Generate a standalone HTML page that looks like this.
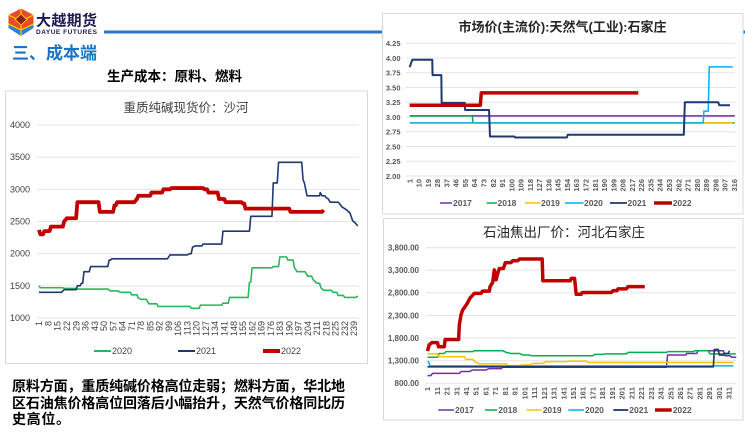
<!DOCTYPE html>
<html><head><meta charset="utf-8"><style>
html,body{margin:0;padding:0;background:#fff;}
svg{display:block;}
text{font-family:"Liberation Sans","Noto Sans CJK SC",sans-serif;}
.cjk{font-family:"Liberation Sans","Noto Sans CJK SC",sans-serif;}
.ln{fill:none;vector-effect:non-scaling-stroke;stroke-linejoin:round;stroke-linecap:butt;}
.g{stroke:#e3e3e3;stroke-width:1;}
.yl{font-size:9px;fill:#404040;text-anchor:end;}
.xl{font-size:9px;fill:#404040;text-anchor:end;}
.yr{font-size:7.5px;fill:#595959;text-anchor:end;font-weight:bold;}
.xr{font-size:7.5px;fill:#595959;text-anchor:end;font-weight:bold;}
.lg{font-size:8.5px;fill:#595959;font-weight:bold;}
</style></head><body>
<svg width="745" height="432" viewBox="0 0 745 432" xmlns="http://www.w3.org/2000/svg">
<rect x="0" y="0" width="745" height="432" fill="#fff"/>
<!-- Logo -->
<polygon points="8.5,24 21,30 33.5,24 33.5,28 21,36 8.5,28" fill="#2f7fd2"/>
<polygon points="8.5,15 21,8.5 33.5,15 33.5,24 21,30 8.5,24" fill="#e84a2a"/>
<polyline points="8.5,15 21,21 33.5,15" fill="none" stroke="#f6c500" stroke-width="1.3"/>
<line x1="21" y1="8.5" x2="21" y2="36" stroke="#f6c500" stroke-width="1.3"/>
<polyline points="8.5,24 21,30 33.5,24" fill="none" stroke="#f6c500" stroke-width="1.3"/>
<polygon points="21,14 27,19.5 21,25 15,19.5" fill="#8e1d1d" stroke="#f6c500" stroke-width="1"/>
<text x="36" y="25.5" font-size="15" font-weight="bold" fill="#1c1c50" textLength="61" class="cjk">大越期货</text>
<text x="36" y="34" font-size="6.5" font-weight="bold" fill="#1c1c50" textLength="61">DAYUE FUTURES</text>
<rect x="104" y="30.5" width="641" height="3" fill="#2a78c2"/>
<text x="12" y="59" font-size="17" font-weight="bold" fill="#1a73c6" textLength="85" class="cjk">三、成本端</text>
<text x="174.5" y="81" font-size="13.5" font-weight="bold" fill="#000" text-anchor="middle" class="cjk">生产成本：原料、燃料</text>

<!-- LEFT CHART -->
<rect x="5.5" y="91" width="362" height="272.5" fill="#fff" stroke="#d9d9d9" stroke-width="1"/>
<text x="186" y="112" font-size="12.5" fill="#404040" text-anchor="middle" class="cjk">重质纯碱现货价：沙河</text>
<g class="g">
<line x1="37" y1="125" x2="359" y2="125"/>
<line x1="37" y1="157.17" x2="359" y2="157.17"/>
<line x1="37" y1="189.33" x2="359" y2="189.33"/>
<line x1="37" y1="221.5" x2="359" y2="221.5"/>
<line x1="37" y1="253.67" x2="359" y2="253.67"/>
<line x1="37" y1="285.83" x2="359" y2="285.83"/>
<line x1="37" y1="318" x2="359" y2="318"/>
</g>
<g>
<text class="yl" x="30" y="128">4000</text>
<text class="yl" x="30" y="160.2">3500</text>
<text class="yl" x="30" y="192.3">3000</text>
<text class="yl" x="30" y="224.5">2500</text>
<text class="yl" x="30" y="256.7">2000</text>
<text class="yl" x="30" y="288.8">1500</text>
<text class="yl" x="30" y="321">1000</text>
</g>
<g>
<text class="xl" transform="translate(42.2,321) rotate(-90)">1</text>
<text class="xl" transform="translate(51.5,321) rotate(-90)">8</text>
<text class="xl" transform="translate(60.7,321) rotate(-90)">15</text>
<text class="xl" transform="translate(70.0,321) rotate(-90)">22</text>
<text class="xl" transform="translate(79.3,321) rotate(-90)">29</text>
<text class="xl" transform="translate(88.5,321) rotate(-90)">36</text>
<text class="xl" transform="translate(97.8,321) rotate(-90)">43</text>
<text class="xl" transform="translate(107.1,321) rotate(-90)">50</text>
<text class="xl" transform="translate(116.3,321) rotate(-90)">57</text>
<text class="xl" transform="translate(125.6,321) rotate(-90)">64</text>
<text class="xl" transform="translate(134.9,321) rotate(-90)">71</text>
<text class="xl" transform="translate(144.1,321) rotate(-90)">78</text>
<text class="xl" transform="translate(153.4,321) rotate(-90)">85</text>
<text class="xl" transform="translate(162.6,321) rotate(-90)">92</text>
<text class="xl" transform="translate(171.9,321) rotate(-90)">99</text>
<text class="xl" transform="translate(181.2,321) rotate(-90)">106</text>
<text class="xl" transform="translate(190.4,321) rotate(-90)">113</text>
<text class="xl" transform="translate(199.7,321) rotate(-90)">120</text>
<text class="xl" transform="translate(209.0,321) rotate(-90)">127</text>
<text class="xl" transform="translate(218.2,321) rotate(-90)">134</text>
<text class="xl" transform="translate(227.5,321) rotate(-90)">141</text>
<text class="xl" transform="translate(236.8,321) rotate(-90)">148</text>
<text class="xl" transform="translate(246.0,321) rotate(-90)">155</text>
<text class="xl" transform="translate(255.3,321) rotate(-90)">162</text>
<text class="xl" transform="translate(264.6,321) rotate(-90)">169</text>
<text class="xl" transform="translate(273.8,321) rotate(-90)">176</text>
<text class="xl" transform="translate(283.1,321) rotate(-90)">183</text>
<text class="xl" transform="translate(292.4,321) rotate(-90)">190</text>
<text class="xl" transform="translate(301.6,321) rotate(-90)">197</text>
<text class="xl" transform="translate(310.9,321) rotate(-90)">204</text>
<text class="xl" transform="translate(320.1,321) rotate(-90)">211</text>
<text class="xl" transform="translate(329.4,321) rotate(-90)">218</text>
<text class="xl" transform="translate(338.7,321) rotate(-90)">225</text>
<text class="xl" transform="translate(347.9,321) rotate(-90)">232</text>
<text class="xl" transform="translate(357.2,321) rotate(-90)">239</text>
</g>
<g transform="translate(37.68,382.33) scale(1.3235,-0.064333)">
<polyline class="ln" stroke="#2db55d" stroke-width="1.6" points="1,1500 2,1470 19,1470 20,1460 29,1460 30,1450 53,1450 55,1420 61,1420 62,1400 70,1400 71,1360 75,1360 76,1310 78,1290 82,1290 84,1220 90,1220 91,1180 115,1180 116,1150 122,1150 123,1200 139,1200 140,1230 144,1230 145,1320 159,1320 160,1550 161,1560 162,1780 177,1780 178,1800 182,1800 183,1950 188,1950 189,1900 193,1900 194,1780 196,1720 202,1720 204,1650 207,1650 208,1600 211,1540 213,1540 214,1470 216,1430 222,1430 223,1400 226,1400 227,1350 231,1350 232,1320 240,1320 242,1340"/>
<polyline class="ln" stroke="#1f3870" stroke-width="1.6" points="1,1400 18,1400 19,1420 20,1440 29,1440 30,1500 32,1500 33,1540 34,1540 35,1720 39,1720 40,1800 53,1800 54,1900 55,1900 56,1920 98,1920 100,1980 113,1980 115,2000 116,2000 117,2100 119,2120 124,2120 125,2150 139,2150 140,2350 160,2350 161,2580 177,2580 178,3100 181,3100 182,3420 199.5,3420 200.5,3150 201.5,3100 203.5,2900 213,2900 213.5,2950 214.8,2900 217,2900 218,2870 219.6,2850 221,2800 227,2800 228,2780 229.7,2730 233.5,2680 236,2630 238,2510 239.8,2480 241.5,2440 242,2440"/>
<polyline class="ln" stroke="#c00000" stroke-width="3.8" points="1,2370 2,2300 4,2300 5,2350 9,2350 10,2420 19,2420 20,2500 22,2550 29,2550 30,2800 46,2800 47,2650 57,2650 58,2750 59,2750 60,2800 73,2800 75,2850 76,2900 85,2900 86,2950 94,2950 95,3000 100,3000 101,3020 125,3020 126,3000 128,3000 129,2950 136,2950 137,2850 141,2850 142,2800 154,2800 155,2780 156,2780 157,2700 190,2700 191,2650 215,2650 216,2680"/>
</g>
<line x1="94" y1="351" x2="111" y2="351" stroke="#2db55d" stroke-width="2"/>
<text class="lg" x="112" y="354" style="font-weight:normal;fill:#404040;font-size:9px">2020</text>
<line x1="178" y1="351" x2="195" y2="351" stroke="#1f3870" stroke-width="2"/>
<text class="lg" x="196" y="354" style="font-weight:normal;fill:#404040;font-size:9px">2021</text>
<line x1="263" y1="351" x2="280" y2="351" stroke="#c00000" stroke-width="4"/>
<text class="lg" x="281" y="354" style="font-weight:normal;fill:#404040;font-size:9px">2022</text>

<!-- Paragraph -->
<text x="12" y="391" font-size="14" font-weight="bold" fill="#000" textLength="333" class="cjk">原料方面，重质纯碱价格高位走弱；燃料方面，华北地</text>
<text x="12" y="408" font-size="14" font-weight="bold" fill="#000" textLength="333" class="cjk">区石油焦价格高位回落后小幅抬升，天然气价格同比历</text>
<text x="12" y="424" font-size="14" font-weight="bold" fill="#000" textLength="58" class="cjk">史高位。</text>

<!-- TOP RIGHT CHART -->
<rect x="382.5" y="13.5" width="360.5" height="200.5" fill="#fff" stroke="#d9d9d9" stroke-width="1"/>
<text x="562.5" y="31.5" font-size="13" font-weight="bold" fill="#262626" text-anchor="middle" class="cjk">市场价(主流价):天然气(工业):石家庄</text>
<g class="g">
<line x1="405.7" y1="43.3" x2="735" y2="43.3"/>
<line x1="405.7" y1="58.04" x2="735" y2="58.04"/>
<line x1="405.7" y1="72.79" x2="735" y2="72.79"/>
<line x1="405.7" y1="87.53" x2="735" y2="87.53"/>
<line x1="405.7" y1="102.28" x2="735" y2="102.28"/>
<line x1="405.7" y1="117.02" x2="735" y2="117.02"/>
<line x1="405.7" y1="131.77" x2="735" y2="131.77"/>
<line x1="405.7" y1="146.51" x2="735" y2="146.51"/>
<line x1="405.7" y1="161.26" x2="735" y2="161.26"/>
<line x1="405.7" y1="176" x2="735" y2="176"/>
</g>
<g>
<text class="yr" x="400.5" y="46">4.25</text>
<text class="yr" x="400.5" y="60.8">4.00</text>
<text class="yr" x="400.5" y="75.5">3.75</text>
<text class="yr" x="400.5" y="90.3">3.50</text>
<text class="yr" x="400.5" y="105">3.25</text>
<text class="yr" x="400.5" y="119.8">3.00</text>
<text class="yr" x="400.5" y="134.5">2.75</text>
<text class="yr" x="400.5" y="149.3">2.50</text>
<text class="yr" x="400.5" y="164">2.25</text>
<text class="yr" x="400.5" y="178.8">2.00</text>
</g>
<g>
<text class="xr" transform="translate(412.3,179) rotate(-90)">1</text>
<text class="xr" transform="translate(421.6,179) rotate(-90)">10</text>
<text class="xr" transform="translate(430.9,179) rotate(-90)">19</text>
<text class="xr" transform="translate(440.1,179) rotate(-90)">28</text>
<text class="xr" transform="translate(449.4,179) rotate(-90)">37</text>
<text class="xr" transform="translate(458.7,179) rotate(-90)">46</text>
<text class="xr" transform="translate(468.0,179) rotate(-90)">55</text>
<text class="xr" transform="translate(477.2,179) rotate(-90)">64</text>
<text class="xr" transform="translate(486.5,179) rotate(-90)">73</text>
<text class="xr" transform="translate(495.8,179) rotate(-90)">82</text>
<text class="xr" transform="translate(505.1,179) rotate(-90)">91</text>
<text class="xr" transform="translate(514.3,179) rotate(-90)">100</text>
<text class="xr" transform="translate(523.6,179) rotate(-90)">109</text>
<text class="xr" transform="translate(532.9,179) rotate(-90)">118</text>
<text class="xr" transform="translate(542.1,179) rotate(-90)">127</text>
<text class="xr" transform="translate(551.4,179) rotate(-90)">136</text>
<text class="xr" transform="translate(560.7,179) rotate(-90)">145</text>
<text class="xr" transform="translate(570.0,179) rotate(-90)">154</text>
<text class="xr" transform="translate(579.2,179) rotate(-90)">163</text>
<text class="xr" transform="translate(588.5,179) rotate(-90)">172</text>
<text class="xr" transform="translate(597.8,179) rotate(-90)">181</text>
<text class="xr" transform="translate(607.1,179) rotate(-90)">190</text>
<text class="xr" transform="translate(616.3,179) rotate(-90)">199</text>
<text class="xr" transform="translate(625.6,179) rotate(-90)">208</text>
<text class="xr" transform="translate(634.9,179) rotate(-90)">217</text>
<text class="xr" transform="translate(644.2,179) rotate(-90)">226</text>
<text class="xr" transform="translate(653.4,179) rotate(-90)">235</text>
<text class="xr" transform="translate(662.7,179) rotate(-90)">244</text>
<text class="xr" transform="translate(672.0,179) rotate(-90)">253</text>
<text class="xr" transform="translate(681.3,179) rotate(-90)">262</text>
<text class="xr" transform="translate(690.5,179) rotate(-90)">271</text>
<text class="xr" transform="translate(699.8,179) rotate(-90)">280</text>
<text class="xr" transform="translate(709.1,179) rotate(-90)">289</text>
<text class="xr" transform="translate(718.4,179) rotate(-90)">298</text>
<text class="xr" transform="translate(727.6,179) rotate(-90)">307</text>
<text class="xr" transform="translate(736.9,179) rotate(-90)">316</text>
</g>
<g transform="translate(408.67,293.96) scale(1.0305,-58.98)">
<polyline class="ln" stroke="#7030a0" stroke-width="1.5" points="1,3.02 316.5,3.02"/>
<polyline class="ln" stroke="#00b050" stroke-width="1.5" points="1,3.02 61.7,3.02 62.5,2.9 316.5,2.9"/>
<polyline class="ln" stroke="#ffc000" stroke-width="1.5" points="1,2.9 315,2.9"/>
<polyline class="ln" stroke="#00b0f0" stroke-width="1.5" points="1,2.9 285.8,2.9 286.5,3.1 290.7,3.1 291.7,3.85 314.4,3.85"/>
<polyline class="ln" stroke="#1f3870" stroke-width="2" points="1,3.846 3.5,3.97 22.9,3.97 23.2,3.71 31.7,3.71 32,3.24 54.4,3.24 54.8,3.12 78,3.12 78.9,2.67 102.5,2.67 103.5,2.653 153.5,2.653 154.4,2.70 267,2.70 268,3.25 300.4,3.25 301.4,3.20 311.8,3.20"/>
<polyline class="ln" stroke="#c00000" stroke-width="3.5" points="1,3.20 69.5,3.20 70.5,3.41 222.8,3.41"/>
</g>
<line x1="440" y1="203" x2="452" y2="203" stroke="#7030a0" stroke-width="1.5"/>
<text class="lg" x="453" y="206">2017</text>
<line x1="486.7" y1="203" x2="497" y2="203" stroke="#00b050" stroke-width="1.5"/>
<text class="lg" x="497.5" y="206">2018</text>
<line x1="525" y1="203" x2="540.5" y2="203" stroke="#ffc000" stroke-width="1.5"/>
<text class="lg" x="541" y="206">2019</text>
<line x1="565" y1="203" x2="583.5" y2="203" stroke="#00b0f0" stroke-width="1.5"/>
<text class="lg" x="584" y="206">2020</text>
<line x1="610" y1="203" x2="627" y2="203" stroke="#1f3870" stroke-width="1.8"/>
<text class="lg" x="627.5" y="206">2021</text>
<line x1="654" y1="203" x2="672" y2="203" stroke="#c00000" stroke-width="3.5"/>
<text class="lg" x="672.7" y="206">2022</text>

<!-- BOTTOM RIGHT CHART -->
<rect x="383.5" y="218.5" width="359.5" height="201.5" fill="#fff" stroke="#d9d9d9" stroke-width="1"/>
<text x="564" y="237" font-size="13.5" fill="#262626" text-anchor="middle" class="cjk">石油焦出厂价：河北石家庄</text>
<g class="g">
<line x1="426" y1="247.7" x2="736" y2="247.7"/>
<line x1="426" y1="270.3" x2="736" y2="270.3"/>
<line x1="426" y1="292.9" x2="736" y2="292.9"/>
<line x1="426" y1="315.5" x2="736" y2="315.5"/>
<line x1="426" y1="338.1" x2="736" y2="338.1"/>
<line x1="426" y1="360.7" x2="736" y2="360.7"/>
<line x1="426" y1="383.3" x2="736" y2="383.3"/>
</g>
<g>
<text class="yr" style="font-size:8px" x="419" y="250.5">3,800.00</text>
<text class="yr" style="font-size:8px" x="419" y="273.1">3,300.00</text>
<text class="yr" style="font-size:8px" x="419" y="295.7">2,800.00</text>
<text class="yr" style="font-size:8px" x="419" y="318.3">2,300.00</text>
<text class="yr" style="font-size:8px" x="419" y="340.9">1,800.00</text>
<text class="yr" style="font-size:8px" x="419" y="363.5">1,300.00</text>
<text class="yr" style="font-size:8px" x="419" y="386.1">800.00</text>
</g>
<g>
<text class="xr" transform="translate(430.1,387) rotate(-90)">1</text>
<text class="xr" transform="translate(439.8,387) rotate(-90)">11</text>
<text class="xr" transform="translate(449.5,387) rotate(-90)">21</text>
<text class="xr" transform="translate(459.3,387) rotate(-90)">31</text>
<text class="xr" transform="translate(469.0,387) rotate(-90)">41</text>
<text class="xr" transform="translate(478.7,387) rotate(-90)">51</text>
<text class="xr" transform="translate(488.5,387) rotate(-90)">61</text>
<text class="xr" transform="translate(498.2,387) rotate(-90)">71</text>
<text class="xr" transform="translate(507.9,387) rotate(-90)">81</text>
<text class="xr" transform="translate(517.6,387) rotate(-90)">91</text>
<text class="xr" transform="translate(527.4,387) rotate(-90)">101</text>
<text class="xr" transform="translate(537.1,387) rotate(-90)">111</text>
<text class="xr" transform="translate(546.8,387) rotate(-90)">121</text>
<text class="xr" transform="translate(556.5,387) rotate(-90)">131</text>
<text class="xr" transform="translate(566.3,387) rotate(-90)">141</text>
<text class="xr" transform="translate(576.0,387) rotate(-90)">151</text>
<text class="xr" transform="translate(585.7,387) rotate(-90)">161</text>
<text class="xr" transform="translate(595.4,387) rotate(-90)">171</text>
<text class="xr" transform="translate(605.2,387) rotate(-90)">181</text>
<text class="xr" transform="translate(614.9,387) rotate(-90)">191</text>
<text class="xr" transform="translate(624.6,387) rotate(-90)">201</text>
<text class="xr" transform="translate(634.4,387) rotate(-90)">211</text>
<text class="xr" transform="translate(644.1,387) rotate(-90)">221</text>
<text class="xr" transform="translate(653.8,387) rotate(-90)">231</text>
<text class="xr" transform="translate(663.5,387) rotate(-90)">241</text>
<text class="xr" transform="translate(673.3,387) rotate(-90)">251</text>
<text class="xr" transform="translate(683.0,387) rotate(-90)">261</text>
<text class="xr" transform="translate(692.7,387) rotate(-90)">271</text>
<text class="xr" transform="translate(702.4,387) rotate(-90)">281</text>
<text class="xr" transform="translate(712.2,387) rotate(-90)">291</text>
<text class="xr" transform="translate(721.9,387) rotate(-90)">301</text>
<text class="xr" transform="translate(731.6,387) rotate(-90)">311</text>
</g>
<g transform="translate(426.53,419.46) scale(0.9726,-0.0452)">
<polyline class="ln" stroke="#7030a0" stroke-width="1.5" points="1,970 4.4,970 6.2,1020 33.7,1020 35.4,1060 44,1060 47.4,1095 61.1,1095 64.6,1125 76.6,1125 78.3,1155 246.7,1155 247.8,1425 266.7,1425 267.4,1460 277.7,1460 279.4,1520 305.2,1520 306.9,1410 312,1410 313.8,1375 318.5,1375"/>
<polyline class="ln" stroke="#00b050" stroke-width="1.5" points="1,1375 11.3,1375 13,1460 18.2,1460 19.9,1500 47.4,1500 49.1,1520 78.3,1520 81.8,1485 86.9,1460 95.5,1460 98.9,1425 105.8,1425 107.5,1410 171.1,1410 172.8,1440 181.4,1440 183.2,1450 205.5,1450 207.2,1485 246.7,1485 248.5,1500 274.2,1500 276,1520 289.7,1520 291.4,1450 318,1450"/>
<polyline class="ln" stroke="#ffc000" stroke-width="1.5" points="1,1450 11.3,1450 12.3,1390 38.8,1390 40.5,1330 47.4,1330 50.8,1260 54.3,1230 81.8,1230 83.5,1190 95.5,1190 98.9,1205 105.8,1205 109.3,1240 119.6,1240 123,1280 143.6,1280 145.4,1290 164.3,1290 166,1260 315.5,1260"/>
<polyline class="ln" stroke="#00b0f0" stroke-width="1.5" points="1,1280 2,1280 3.5,1185 315.5,1185"/>
<polyline class="ln" stroke="#1f3870" stroke-width="1.6" points="1,1165 294.9,1165 295.9,1550 300,1550 301,1425 305.2,1425 305.9,1460 310.3,1460 311.4,1520"/>
<polyline class="ln" stroke="#c00000" stroke-width="3.5" points="1,1515 2.7,1650 5.5,1700 11.3,1700 12.3,1610 18.2,1610 19.2,1770 33,1770 33.7,2090 35.4,2310 37.1,2420 39.8,2500 42.2,2580 44.6,2680 49.1,2790 56,2790 57.7,2840 64.6,2840 65.3,2940 68,3030 69.7,3310 71.5,3090 73.2,3230 74.9,3340 79,3340 81.1,3470 86.9,3470 88.6,3510 93.8,3510 95.5,3550 118.9,3550 119.6,3070 147.8,3070 148.8,3120 152.2,3120 153.9,2770 159.1,2770 160.1,2810 190,2810 191.8,2850 195.9,2850 196.9,2890 205.5,2890 207.2,2940 224.4,2940"/>
</g>
<line x1="438.3" y1="410" x2="454" y2="410" stroke="#7030a0" stroke-width="1.5"/>
<text class="lg" x="455" y="413">2017</text>
<line x1="485" y1="410" x2="497.3" y2="410" stroke="#00b050" stroke-width="1.5"/>
<text class="lg" x="498.3" y="413">2018</text>
<line x1="526.7" y1="410" x2="541.7" y2="410" stroke="#ffc000" stroke-width="1.5"/>
<text class="lg" x="542.7" y="413">2019</text>
<line x1="568.3" y1="410" x2="584" y2="410" stroke="#00b0f0" stroke-width="1.5"/>
<text class="lg" x="585" y="413">2020</text>
<line x1="613.3" y1="410" x2="628.3" y2="410" stroke="#1f3870" stroke-width="1.8"/>
<text class="lg" x="629.3" y="413">2021</text>
<line x1="655" y1="410" x2="671.7" y2="410" stroke="#c00000" stroke-width="3.5"/>
<text class="lg" x="672.7" y="413">2022</text>
</svg>
</body></html>
